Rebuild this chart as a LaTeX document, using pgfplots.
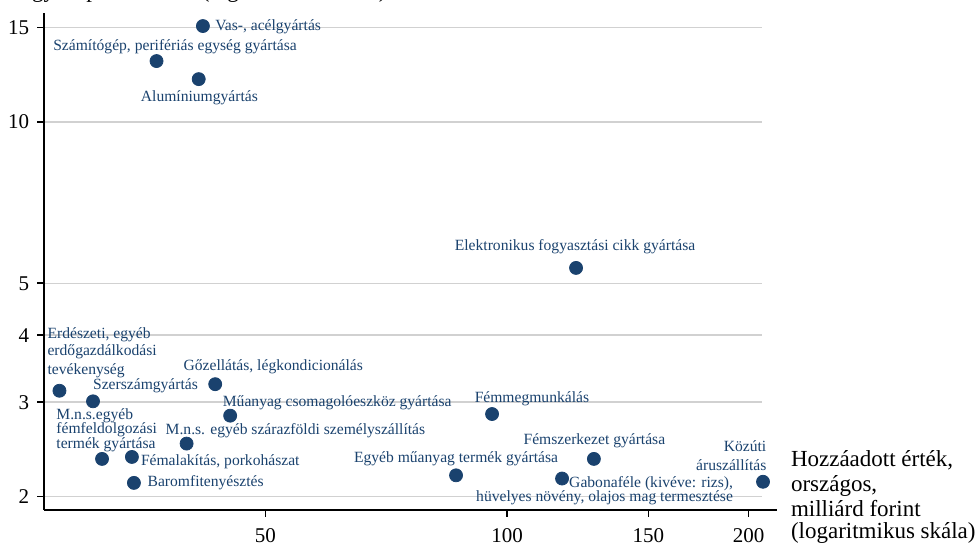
\documentclass[border=0pt]{standalone}
\usepackage{fontspec}
\setmainfont{Liberation Serif}
\usepackage{pgfplots}
\pgfplotsset{compat=1.18}
\definecolor{stnavy}{RGB}{26,66,110}
\newcommand\lab[6]{\node[font=\fontsize{7.8}{9}\selectfont, text=stnavy, inner sep=0pt, anchor=#5, xshift=#3, yshift=#4] at (axis cs:#1,#2) {#6};}
\begin{document}
\begin{tikzpicture}
\begin{axis}[
  scale only axis,
  width=359pt, height=248.5pt,
  xmode=log, ymode=log,
  xmin=26.5, xmax=207.8, ymin=1.887, ymax=15.97,
  axis x line*=bottom, axis y line*=left,
  axis line style={-, black, line width=0.75pt},
  x axis line style={shorten >=-7.5pt},
  tick style={black, line width=0.75pt},
  tick align=outside, major tick length=3.5pt,
  xminorticks=false, yminorticks=false,
  xtick={50,100,150,200}, xticklabels={50,100,150,200},
  ytick={2,3,4,5,10,15}, yticklabels={2,3,4,5,10,15},
  tick label style={font=\fontsize{10.5}{12}\selectfont},
  xticklabel style={anchor=base, inner sep=0pt, yshift=-13pt},
  yticklabel style={anchor=base east, inner sep=0pt, xshift=-3.7pt, yshift=-3.5pt},
  ymajorgrids, xmajorgrids=false,
  major grid style={black!18, line width=0.7pt},
  clip=false,
]
\addplot[only marks, mark=*, mark size=3.25pt, color=stnavy, mark options={fill=stnavy, draw=stnavy}] coordinates {
(41.8,15.10) (36.6,12.99) (41.3,12.02) (121.9,5.34) (27.7,3.15) (30.5,3.01)
(31.3,2.35) (34.1,2.37) (34.3,2.12) (39.9,2.51) (43.3,3.24) (45.2,2.83)
(95.8,2.85) (86.4,2.19) (117.1,2.16) (128.3,2.35) (208.4,2.13)};
\lab{41.8}{15.10}{6pt}{-2.25pt}{base west}{Vas-, acélgyártás}
\lab{36.6}{12.99}{9.25pt}{5.5pt}{base}{Számítógép, perifériás egység gyártása}
\lab{41.3}{12.02}{0.35pt}{-11.35pt}{base}{Alumíniumgyártás}
\lab{121.9}{5.34}{-0.5pt}{8.65pt}{base}{Elektronikus fogyasztási cikk gyártása}
\lab{27.7}{3.15}{-6.15pt}{26.2pt}{base west}{Erdészeti, egyéb}
\lab{27.7}{3.15}{-6.15pt}{17.5pt}{base west}{erdőgazdálkodási}
\lab{27.7}{3.15}{-6.15pt}{8.2pt}{base west}{tevékenység}
\lab{30.5}{3.01}{-0.15pt}{5.85pt}{base west}{Szerszámgyártás}
\lab{31.3}{2.35}{-23pt}{19.85pt}{base west}{M.n.s.egyéb}
\lab{31.3}{2.35}{-23pt}{12.85pt}{base west}{fémfeldolgozási}
\lab{31.3}{2.35}{-23pt}{5.35pt}{base west}{termék gyártása}
\lab{34.1}{2.37}{4.35pt}{-4.35pt}{base west}{Fémalakítás, porkohászat}
\lab{34.3}{2.12}{6.65pt}{-1.85pt}{base west}{Baromfitenyésztés}
\lab{39.9}{2.51}{-10.65pt}{4.5pt}{base west}{M.n.s. egyéb szárazföldi személyszállítás}
\lab{43.3}{3.24}{-16pt}{6.65pt}{base west}{Gőzellátás, légkondicionálás}
\lab{45.2}{2.83}{-3.85pt}{4.5pt}{base west}{Műanyag csomagolóeszköz gyártása}
\lab{95.8}{2.85}{-8.85pt}{5.65pt}{base west}{Fémmegmunkálás}
\lab{86.4}{2.19}{0pt}{6.65pt}{base}{Egyéb műanyag termék gyártása}
\lab{117.1}{2.16}{85.65pt}{-4.35pt}{base east}{Gabonaféle (kivéve: rizs),}
\lab{117.1}{2.16}{85.65pt}{-11.5pt}{base east}{hüvelyes növény, olajos mag termesztése}
\lab{128.3}{2.35}{0.25pt}{7pt}{base}{Fémszerkezet gyártása}
\lab{208.4}{2.13}{1.85pt}{15.15pt}{base east}{Közúti}
\lab{208.4}{2.13}{1.85pt}{5.5pt}{base east}{áruszállítás}
\end{axis}
\begin{scope}[every node/.style={font=\fontsize{11.5}{12}\selectfont, inner sep=0pt, anchor=base west}]
\node at (373.3pt,21.65pt) {Hozzáadott érték,};
\node at (373.3pt,9.15pt) {országos,};
\node at (373.3pt,-3.35pt) {milliárd forint};
\node at (373.3pt,-14.15pt) {(logaritmikus skála)};
\node at (-21.5pt,256.3pt) {Megyei specializáció (logaritmikus skála)};
\end{scope}
\pgfresetboundingbox
\path[use as bounding box] (-22pt,-18.5pt) rectangle (466pt,255pt);
\end{tikzpicture}
\end{document}
